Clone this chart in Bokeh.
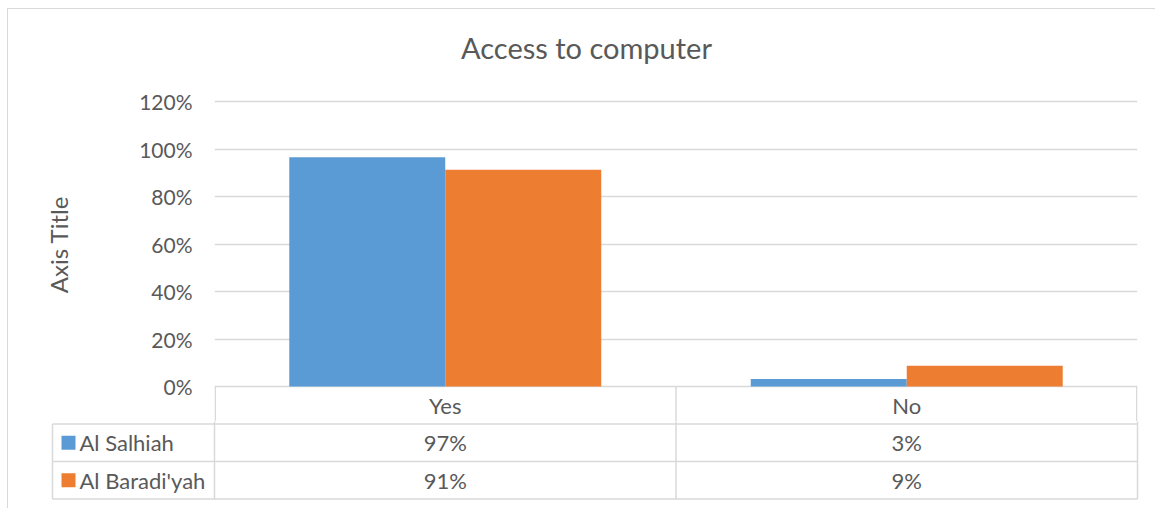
from bokeh.plotting import figure
from bokeh.layouts import column
from bokeh.models import (FactorRange, Range1d, NumeralTickFormatter, FixedTicker,
                          ColumnDataSource)
from bokeh.core.properties import value
from bokeh.transform import dodge
from bokeh.embed import file_html
from bokeh.resources import INLINE

# ---- data ----
title = "Access to computer"
categories = ["Yes", "No"]
series_names = ["Al Salhiah", "Al Baradi'yah"]
al_salhiah = [0.965, 0.032]
al_baradiyah = [0.913, 0.087]
table_salhiah = [0.97, 0.03]
table_baradiyah = [0.91, 0.09]
y_ticks = [0, 0.2, 0.4, 0.6, 0.8, 1.0, 1.2]
colors = ["#5B9BD5", "#ED7D31"]

FONT = "Lato"
TXT = "#595959"
GRID = "#D9D9D9"

# ---- layout constants (pixels) ----
OX, OY = 8, 9                 # page position of content (after margin + border)
FL, FR = 214, 1137            # plot area left/right
Y0, YTOP = 386, 101           # pixel of 0% and of 120%
PX_Y = (Y0 - YTOP) / 1.2
PX_X = (FR - FL) / len(categories)
W = 1147
CHART_TOP = 66                # page y where chart canvas starts
HT = CHART_TOP - OY           # title strip height
FRAME_TOP = 67
SPLIT = 421                   # page y where chart canvas ends / table canvas starts
H1 = SPLIT - CHART_TOP
H2 = 508 - SPLIT
ROW = 37.5

def bare(fig):
    fig.outline_line_color = None
    fig.grid.visible = False

# ---- title strip ----
tf = figure(x_range=Range1d(OX, OX + W), y_range=Range1d(OY + HT, OY),
            width=W, height=HT, output_backend="svg", toolbar_location=None,
            x_axis_location=None, y_axis_location=None, frame_align=False,
            min_border_left=0, min_border_right=0, min_border_top=0, min_border_bottom=0)
bare(tf)
tf.text(x=[586], y=[47], text=[title], text_font=value(FONT), text_font_size="29px",
        text_color=TXT, text_align="center", text_baseline="middle")

# ---- chart (plot area + header row of the data table) ----
p = figure(x_range=FactorRange(*categories, range_padding=0),
           y_range=Range1d(-(SPLIT - Y0) / PX_Y, 1.2 + (YTOP - FRAME_TOP) / PX_Y),
           width=W, height=H1, output_backend="svg", toolbar_location=None,
           x_axis_location=None, frame_align=False,
           min_border_left=FL - OX, min_border_right=W - (FR - OX),
           min_border_top=FRAME_TOP - CHART_TOP, min_border_bottom=0)
p.outline_line_color = None

src = ColumnDataSource(dict(cat=categories, s1=al_salhiah, s2=al_baradiyah))
p.vbar(x=dodge("cat", -0.169, range=p.x_range), top="s1", width=0.338, source=src,
       fill_color=colors[0], line_color=None)
p.vbar(x=dodge("cat", 0.169, range=p.x_range), top="s2", width=0.338, source=src,
       fill_color=colors[1], line_color=None)

p.xgrid.visible = False
ya = p.yaxis[0]
ya.ticker = FixedTicker(ticks=y_ticks)
ya.formatter = NumeralTickFormatter(format="0%")
ya.axis_line_color = None
ya.major_tick_line_color = None
ya.minor_tick_line_color = None
ya.major_tick_out = 0
ya.major_tick_in = 0
ya.major_label_standoff = 22
ya.major_label_text_font = FONT
ya.major_label_text_font_size = "21px"
ya.major_label_text_color = TXT
ya.axis_label = "Axis Title"
ya.axis_label_text_font = FONT
ya.axis_label_text_font_size = "24px"
ya.axis_label_text_font_style = "normal"
ya.axis_label_text_color = TXT
ya.axis_label_standoff = 63
p.ygrid.ticker = FixedTicker(ticks=y_ticks)
p.ygrid.grid_line_color = GRID
p.ygrid.grid_line_width = 1.5

ncat = len(categories)
nrow = len(series_names)
# header row column separators
inset = 0.75 / PX_X
sep_x = [inset] + [float(i) for i in range(1, ncat)] + [ncat - inset]
p.segment(x0=sep_x, y0=[0.0] * len(sep_x), x1=sep_x, y1=[-(SPLIT - Y0 + 2) / PX_Y] * len(sep_x),
          line_color=GRID, line_width=1.5)
# header row texts (category names)
p.text(x=categories, y=[-(ROW * 0.5) / PX_Y] * ncat, text=categories,
       text_font=value(FONT), text_font_size="22px", text_color=TXT,
       text_align="center", text_baseline="middle")

# ---- data table rows ----
xs0 = (OX - FL) / PX_X
xs1 = (OX + W - FL) / PX_X
t = figure(x_range=Range1d(xs0, xs1),
           y_range=Range1d(-(SPLIT + H2 - Y0) / ROW, -(SPLIT - Y0) / ROW),
           width=W, height=H2, output_backend="svg", toolbar_location=None,
           x_axis_location=None, y_axis_location=None, frame_align=False,
           min_border_left=0, min_border_right=0, min_border_top=0, min_border_bottom=0)
bare(t)

xl = (52 - FL) / PX_X

hx0 = [xl] * (nrow + 1)
hy = [-(r + 1.0) for r in range(nrow + 1)]
hx1 = [float(ncat)] * len(hx0)
t.segment(x0=hx0, y0=hy, x1=hx1, y1=hy, line_color=GRID, line_width=1.5)
vx = [xl] + [float(i) for i in range(ncat + 1)]
vy0 = [-1.0] + [0.0] * (ncat + 1)
vy1 = [-(nrow + 1.0)] * len(vx)
t.segment(x0=vx, y0=vy0, x1=vx, y1=vy1, line_color=GRID, line_width=1.5)

rows = [table_salhiah, table_baradiyah]
ry = [-(r + 1.5) for r in range(nrow)]
t.rect(x=[xl + 16 / PX_X] * nrow, y=ry, width=14, height=14, width_units="screen",
       height_units="screen", fill_color=colors, line_color=None)
t.text(x=[xl + 27 / PX_X] * nrow, y=ry, text=series_names, text_font=value(FONT),
       text_font_size="22px", text_color=TXT, text_align="left", text_baseline="middle")
vals_x, vals_y, vals_t = [], [], []
for r, vals in enumerate(rows):
    for i in range(ncat):
        vals_x.append(i + 0.5)
        vals_y.append(ry[r])
        vals_t.append(f"{round(vals[i] * 100)}%")
t.text(x=vals_x, y=vals_y, text=vals_t, text_font=value(FONT), text_font_size="22px",
       text_color=TXT, text_align="center", text_baseline="middle")

layout = column(tf, p, t, spacing=0,
                styles={"margin-left": "7px", "margin-top": "8px",
                        "border-left": "1px solid #D9D9D9", "border-top": "1px solid #D9D9D9"})

open("out.html", "w").write(file_html(layout, INLINE))
